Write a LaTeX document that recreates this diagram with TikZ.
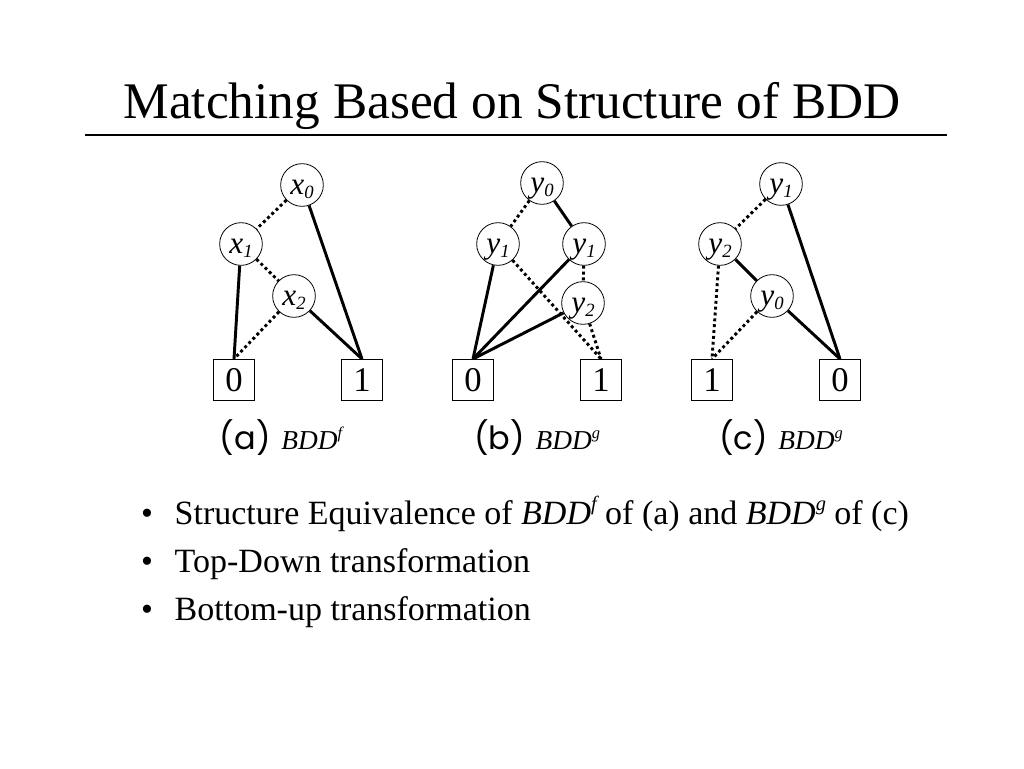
\documentclass[tikz,border=0pt]{standalone}
\usepackage{fontspec}
\usepackage{graphicx}
\setmainfont{Liberation Serif}
\newfontfamily\capfont{Poppins}
\newcommand{\vsub}[2]{#1{\fontsize{14}{14}\selectfont\raisebox{-3pt}{#2}}}
\newcommand{\bddsup}[1]{\textit{BDD\raisebox{0.85ex}{\scalebox{0.6}{#1}}}}

\tikzset{
  var/.style={circle, draw, line width=0.6pt, minimum size=32pt, inner sep=0pt,
    text height=14pt, text depth=0pt, font=\fontsize{23.5}{23.5}\selectfont\itshape},
  leaf/.style={rectangle, draw, line width=0.6pt, minimum width=31pt, minimum height=31pt,
    inner sep=0pt, font=\fontsize{26}{26}\selectfont},
  hi/.style={line width=2.2pt},
  lo/.style={line width=2.2pt, dash pattern=on 2.2pt off 2.2pt},
  caption/.style={anchor=base, font=\fontsize{20.5}{20.5}\selectfont},
  item/.style={anchor=base west, font=\fontsize{25.5}{25.5}\selectfont},
}

\begin{document}
\begin{tikzpicture}[x=0.75pt, y=-0.75pt]
  \useasboundingbox (0,0) rectangle (1024,768);

  % Title
  \node[anchor=base, font=\fontsize{38.5}{38.5}\selectfont] (title) at (512,118) {Matching Based on Structure of BDD};
  \draw[line width=1.5pt] (85,135) -- (947,135);

  % (a) BDD^f
  \node[var] (ax0) at (302,185) {\vsub{x}{0}};
  \node[var] (ax1) at (241,244) {\vsub{x}{1}};
  \node[var] (ax2) at (294,296) {\vsub{x}{2}};
  \node[leaf] (a0) at (234,380) {0};
  \node[leaf] (a1) at (362,380) {1};
  \draw[lo] (ax0) -- (ax1);
  \draw[hi] (ax0) -- (a1.north);
  \draw[hi] (ax1) -- (a0.north);
  \draw[lo] (ax1) -- (ax2);
  \draw[lo] (ax2) -- (a0.north);
  \draw[hi] (ax2) -- (a1.north);

  % (b) BDD^g
  \node[var] (by0) at (542,183) {\vsub{y}{0}};
  \node[var] (by1l) at (498,244) {\vsub{y}{1}};
  \node[var] (by1r) at (584,244) {\vsub{y}{1}};
  \node[var] (by2) at (583,303) {\vsub{y}{2}};
  \node[leaf] (b0) at (473,380) {0};
  \node[leaf] (b1) at (601,380) {1};
  \draw[lo] (by0) -- (by1l);
  \draw[hi] (by0) -- (by1r);
  \draw[hi] (by1l) -- (b0.north);
  \draw[lo] (by1l) -- (b1.north);
  \draw[hi] (by1r) -- (b0.north);
  \draw[lo] (by1r) -- (by2);
  \draw[hi] (by2) -- (b0.north);
  \draw[lo] (by2) -- (b1.north);

  % (c) BDD^g
  \node[var] (cy1) at (781,184) {\vsub{y}{1}};
  \node[var] (cy2) at (720,244) {\vsub{y}{2}};
  \node[var] (cy0) at (772,296) {\vsub{y}{0}};
  \node[leaf] (c1) at (712,380) {1};
  \node[leaf] (c0) at (840,380) {0};
  \draw[lo] (cy1) -- (cy2);
  \draw[hi] (cy1) -- (c0.north);
  \draw[hi] (cy2) -- (cy0);
  \draw[lo] (cy2) -- (c1.north);
  \draw[lo] (cy0) -- (c1.north);
  \draw[hi] (cy0) -- (c0.north);

  % Captions
  \node[caption] (capa) at (281,449) {{\capfont\fontsize{24}{24}\selectfont(a)}\hspace{3pt} \bddsup{f}};
  \node[caption] (capb) at (537,449) {{\capfont\fontsize{24}{24}\selectfont(b)}\hspace{3pt} \bddsup{g}};
  \node[caption] (capc) at (781,449) {{\capfont\fontsize{24}{24}\selectfont(c)}\hspace{3pt} \bddsup{g}};

  % Bullet points
  \node[item, anchor=base] (dot1) at (147,524) {\textbullet};
  \node[item] (txt1) at (170,524) {Structure Equivalence of \bddsup{f} of (a) and \bddsup{g} of (c)};
  \node[item, anchor=base] (dot2) at (147,572) {\textbullet};
  \node[item] (txt2) at (170,572) {Top-Down transformation};
  \node[item, anchor=base] (dot3) at (147,620) {\textbullet};
  \node[item] (txt3) at (170,620) {Bottom-up transformation};
\end{tikzpicture}
\end{document}
